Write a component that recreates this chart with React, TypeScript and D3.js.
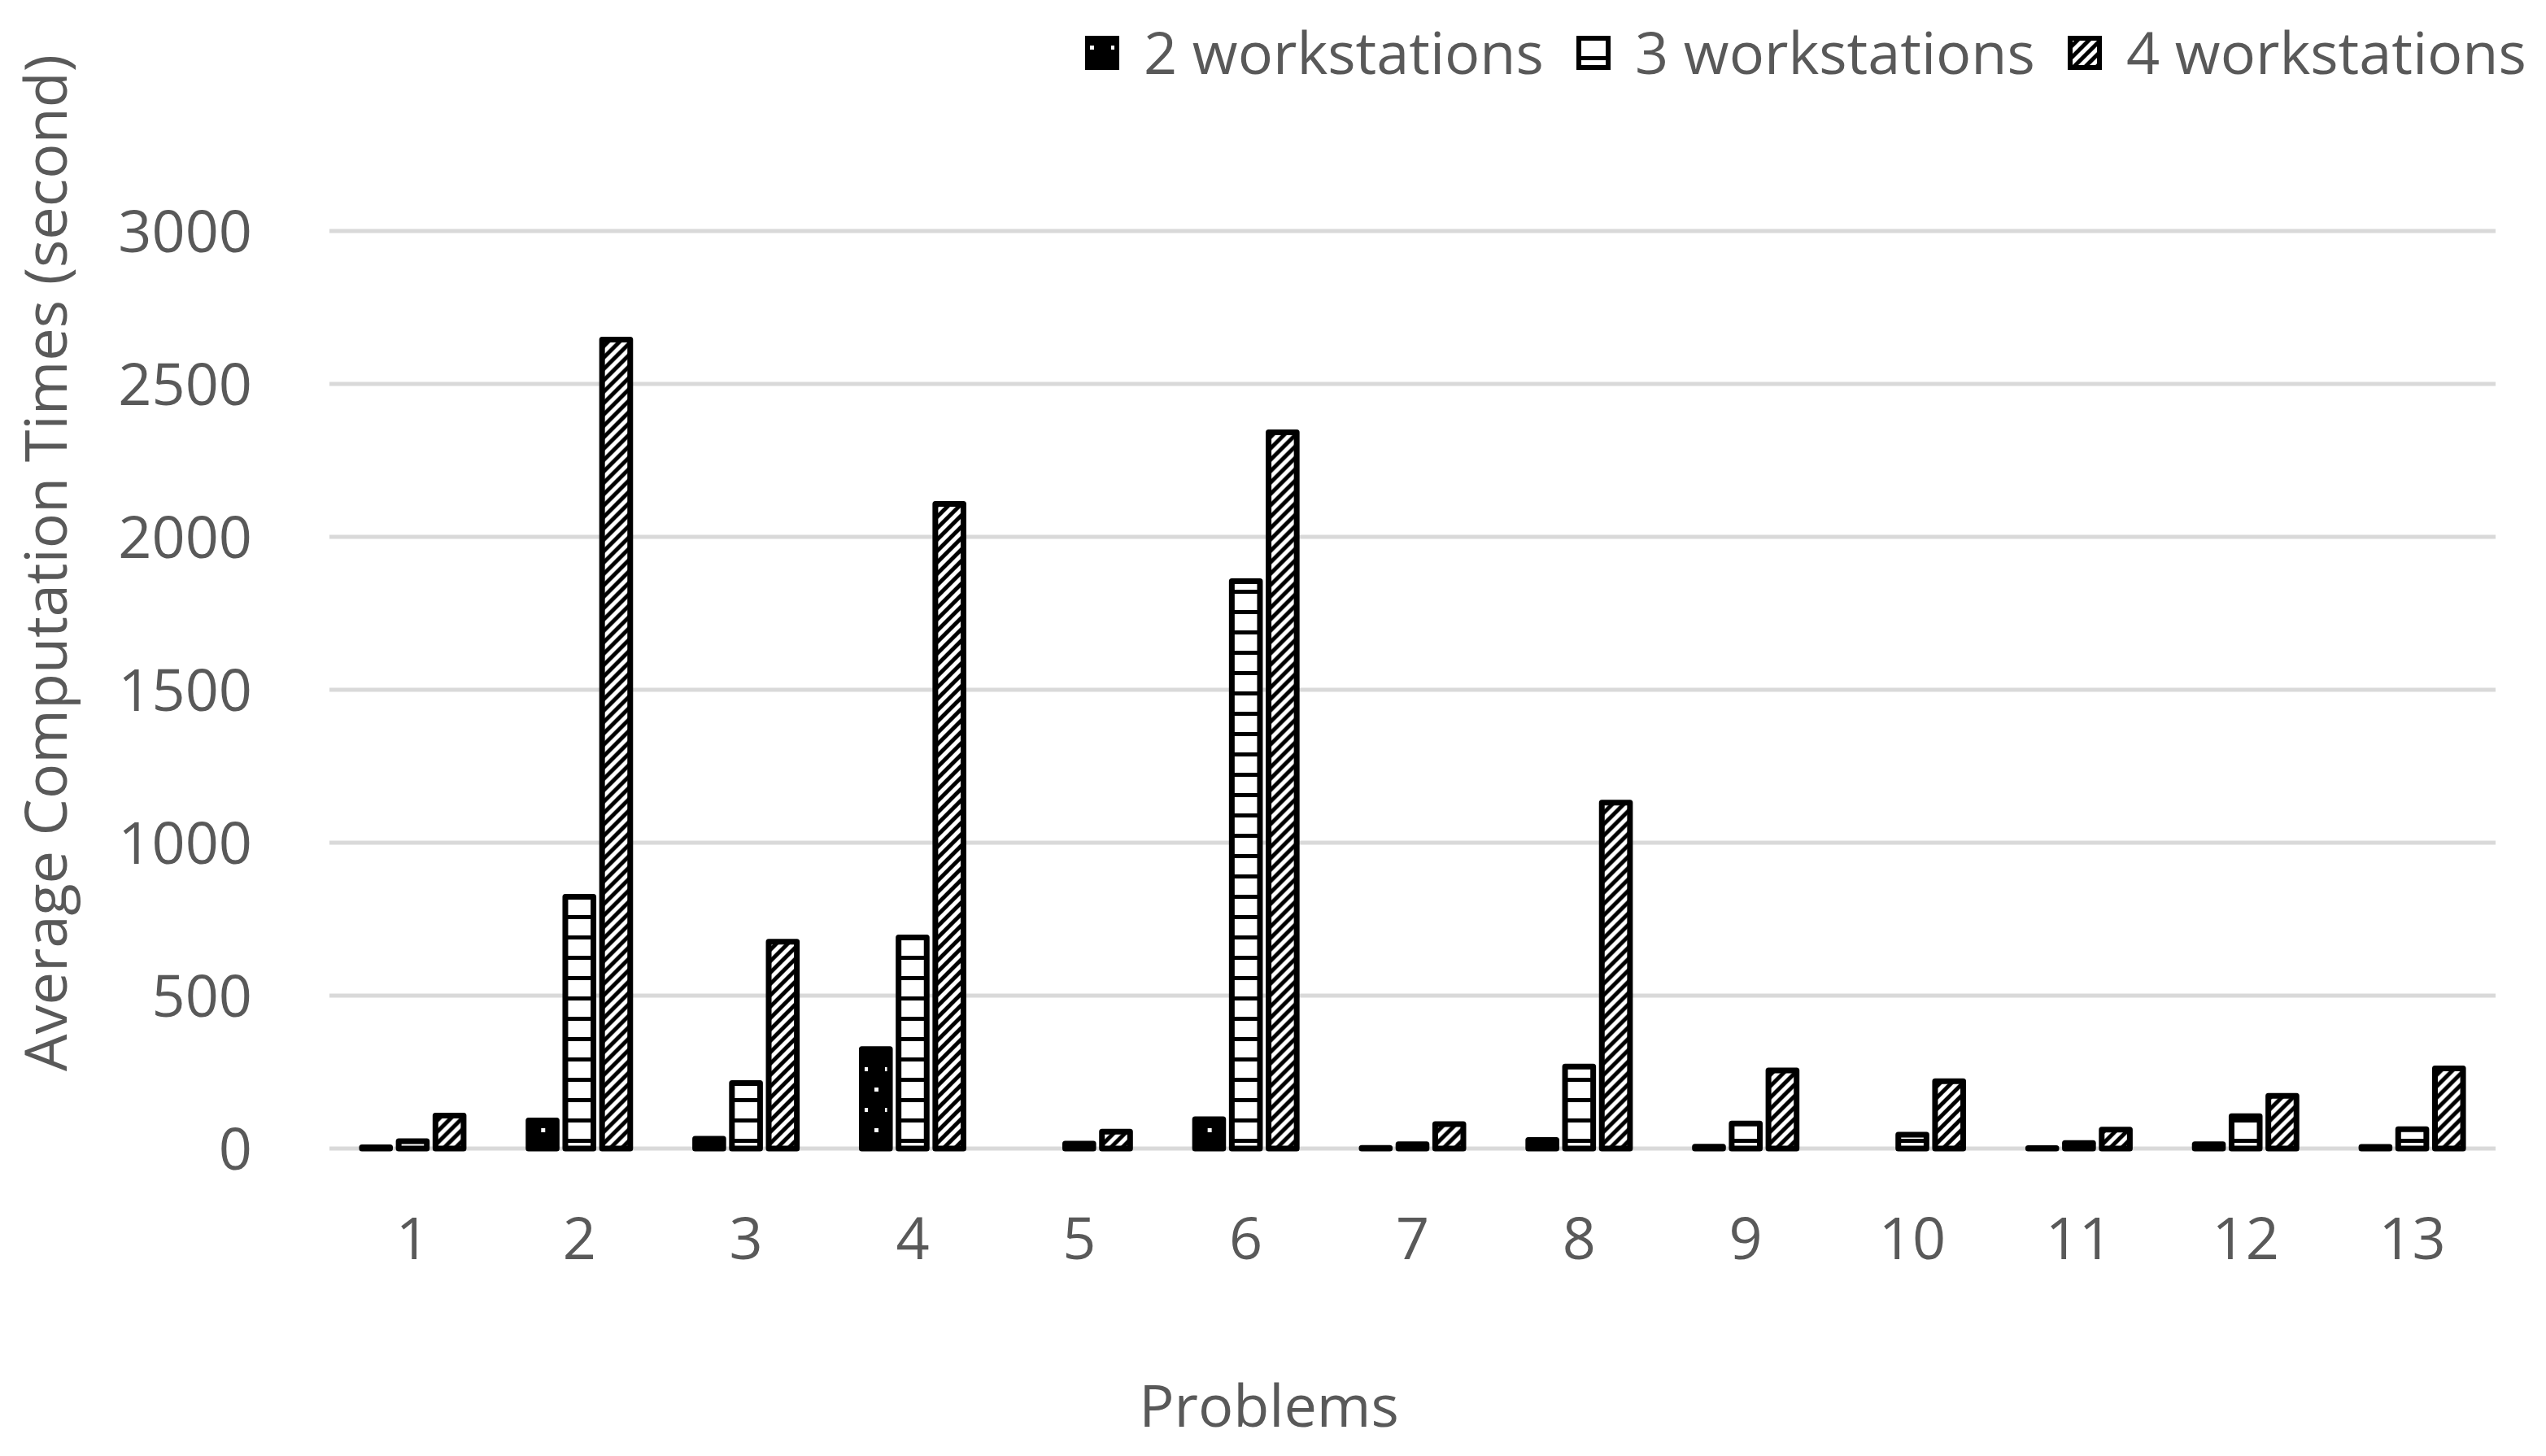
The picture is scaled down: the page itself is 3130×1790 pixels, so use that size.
import React from 'react';
import * as d3 from 'd3';

const problems = ['1', '2', '3', '4', '5', '6', '7', '8', '9', '10', '11', '12', '13'];
const seriesNames = ['2 workstations', '3 workstations', '4 workstations'];
const twoWs = [4, 92, 32, 325, 0, 96, 2, 28, 6, 0, 1, 14, 5];
const threeWs = [24, 823, 214, 690, 16, 1855, 14, 268, 82, 45, 18, 106, 63];
const fourWs = [108, 2645, 676, 2108, 55, 2342, 80, 1131, 255, 220, 62, 172, 262];
const yTicks = [0, 500, 1000, 1500, 2000, 2500, 3000];

const seriesValues = [twoWs, threeWs, fourWs];
const fills = ['url(#dots)', 'url(#hlines)', 'url(#diag)'];

const W = 3130;
const H = 1790;
const FONT = "'Open Sans', 'DejaVu Sans', sans-serif";
const GREY = '#595959';

export default function App() {
  const x = d3.scaleBand().domain(problems).range([405, 3068]).padding(0);
  const y = d3.scaleLinear().domain([0, 3000]).range([1412, 284]);

  const groupW = 132;
  const xSub = d3.scaleBand().domain(seriesNames).range([0, groupW]).paddingInner(0.08);
  const off = (x.bandwidth() - groupW) / 2;
  const sw = 7;

  const legendX = [1334, 1938, 2542];

  return (
    <svg width={W} height={H} style={{ position: 'absolute', left: 0, top: 0, background: '#fff' }}>
      <defs>
        <pattern id="dots" width="26" height="50" patternUnits="userSpaceOnUse">
          <rect width="26" height="50" fill="#000" />
          <rect x="6" y="12" width="5" height="5" fill="#fff" />
          <rect x="19" y="37" width="5" height="5" fill="#fff" />
        </pattern>
        <pattern id="hlines" width="40" height="25" patternUnits="userSpaceOnUse">
          <rect width="40" height="25" fill="#fff" />
          <rect y="0" width="40" height="5" fill="#000" />
        </pattern>
        <pattern id="diag" width="14" height="14" patternUnits="userSpaceOnUse">
          <rect width="14" height="14" fill="#fff" />
          <path d="M0,14 L14,0 L14,7 L7,14 Z M0,7 L7,0 L0,0 Z" fill="#000" />
        </pattern>
      </defs>

      {yTicks.map(t => (
        <g key={t}>
          <line x1={405} x2={3068} y1={y(t)} y2={y(t)} stroke="#d9d9d9" strokeWidth={5} />
          <text x={310} y={y(t)} dy="0.36em" textAnchor="end" fontFamily={FONT} fontSize={72} fill={GREY}>
            {t}
          </text>
        </g>
      ))}

      {problems.map((p, i) => (
        <g key={p} transform={`translate(${(x(p) || 0) + off},0)`}>
          {seriesNames.map((s, k) => {
            const v = seriesValues[k][i];
            if (v <= 0) return null;
            return (
              <rect
                key={s}
                x={(xSub(s) || 0) + sw / 2}
                y={y(v)}
                width={xSub.bandwidth() - sw}
                height={y(0) - y(v)}
                fill={fills[k]}
                stroke="#000"
                strokeWidth={sw}
                strokeLinejoin="round"
              />
            );
          })}
        </g>
      ))}

      {problems.map(p => (
        <text key={p} x={(x(p) || 0) + x.bandwidth() / 2} y={1548} textAnchor="middle"
          fontFamily={FONT} fontSize={72} fill={GREY}>
          {p}
        </text>
      ))}

      <text x={1560} y={1754} textAnchor="middle" fontFamily={FONT} fontSize={72} fill={GREY}>
        Problems
      </text>
      <text transform="translate(82,692) rotate(-90)" textAnchor="middle" fontFamily={FONT} fontSize={72} fill={GREY}>
        Average Computation Times (second)
      </text>

      {seriesNames.map((s, k) => (
        <g key={s} transform={`translate(${legendX[k]},44)`}>
          <rect x={3} y={3} width={36} height={36} fill={fills[k]} stroke="#000" strokeWidth={6} />
          <text x={72} y={21} dy="0.36em" fontFamily={FONT} fontSize={72} fill={GREY}>
            {s}
          </text>
        </g>
      ))}
    </svg>
  );
}
